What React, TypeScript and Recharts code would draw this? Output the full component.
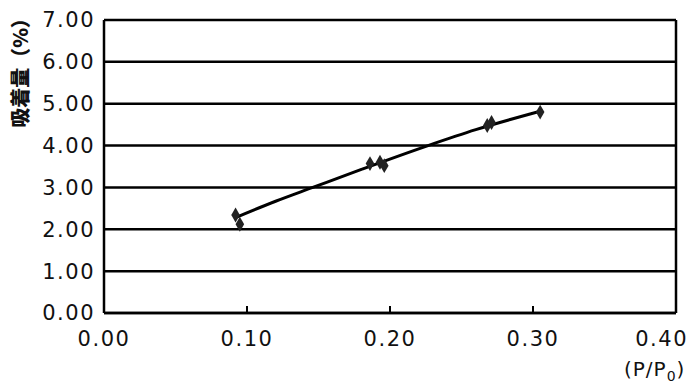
import React from 'react';
import {
  ComposedChart,
  Scatter,
  Line,
  XAxis,
  YAxis,
  CartesianGrid,
  ReferenceLine,
} from 'recharts';

// measured points (P/P0, adsorption %)
const pressure = [0.092, 0.095, 0.186, 0.193, 0.196, 0.268, 0.271, 0.305];
const adsorption = [2.34, 2.12, 3.57, 3.6, 3.52, 4.48, 4.55, 4.8];

// fitted trend curve
const fitX = [0.092, 0.12, 0.146, 0.18, 0.2266, 0.26, 0.305];
const fitY = [2.28, 2.67, 3.0, 3.43, 4.0, 4.38, 4.82];

const xTicks = [0, 0.1, 0.2, 0.3, 0.4];
const yTicks = [0, 1, 2, 3, 4, 5, 6, 7];

const points = pressure.map((p, i) => ({ x: p, y: adsorption[i] }));
const fit = fitX.map((p, i) => ({ x: p, fy: fitY[i] }));

const font = '"DejaVu Sans", Verdana, sans-serif';
const tickStyle = { fill: '#111', fontSize: 21, fontFamily: font, letterSpacing: 1.5 };

function XTick(props: any) {
  const { x, y, payload, index } = props;
  const last = index === xTicks.length - 1;
  return (
    <text
      x={last ? x + 12 : x}
      y={y}
      dy={17}
      textAnchor={last ? 'end' : 'middle'}
      {...tickStyle}
    >
      {Number(payload.value).toFixed(2)}
    </text>
  );
}

export default function App() {
  return (
    <div style={{ position: 'absolute', left: 0, top: 0, width: 698, height: 386, background: '#fff' }}>
      <style>{`body{margin:0}`}</style>
      <ComposedChart
        width={698}
        height={386}
        margin={{ top: 20, right: 22, bottom: 43, left: 24 }}
      >
        <CartesianGrid vertical={false} stroke="#000" strokeWidth={2.5} />
        <XAxis
          type="number"
          dataKey="x"
          domain={[0, 0.4]}
          ticks={xTicks}
          height={30}
          axisLine={{ stroke: '#000', strokeWidth: 2.5 }}
          tickLine={{ stroke: '#000', strokeWidth: 2 }}
          tickSize={-7}
          tickMargin={23}
          tick={<XTick />}
          allowDataOverflow
        />
        <YAxis
          type="number"
          domain={[0, 7]}
          ticks={yTicks}
          width={80}
          tickFormatter={(v: number) => v.toFixed(2)}
          axisLine={{ stroke: '#000', strokeWidth: 2.5 }}
          tickLine={false}
          tickSize={0}
          tickMargin={9}
          tick={tickStyle}
        />
        <ReferenceLine x={0.4} stroke="#000" strokeWidth={2.5} />
        <Line
          data={fit}
          dataKey="fy"
          type="monotone"
          stroke="#000"
          strokeWidth={3}
          dot={false}
          isAnimationActive={false}
        />
        <Scatter
          data={points}
          dataKey="y"
          fill="#222"
          shape="diamond"
          size={28}
          legendType="none"
          isAnimationActive={false}
        />
      </ComposedChart>
      <div
        style={{
          position: 'absolute',
          left: 20,
          top: 68,
          transform: 'translate(-50%, -50%) rotate(-90deg)',
          whiteSpace: 'nowrap',
          fontFamily: '"Noto Sans CJK JP", sans-serif',
          fontWeight: 900,
          fontSize: 20,
          lineHeight: 1,
          color: '#111',
        }}
      >
        吸着量（%）
      </div>
      <div
        style={{
          position: 'absolute',
          left: 624,
          top: 357,
          fontFamily: font,
          fontSize: 20,
          color: '#111',
          letterSpacing: 1,
        }}
      >
        (P/P<sub style={{ fontSize: 14 }}>0</sub>)
      </div>
    </div>
  );
}
